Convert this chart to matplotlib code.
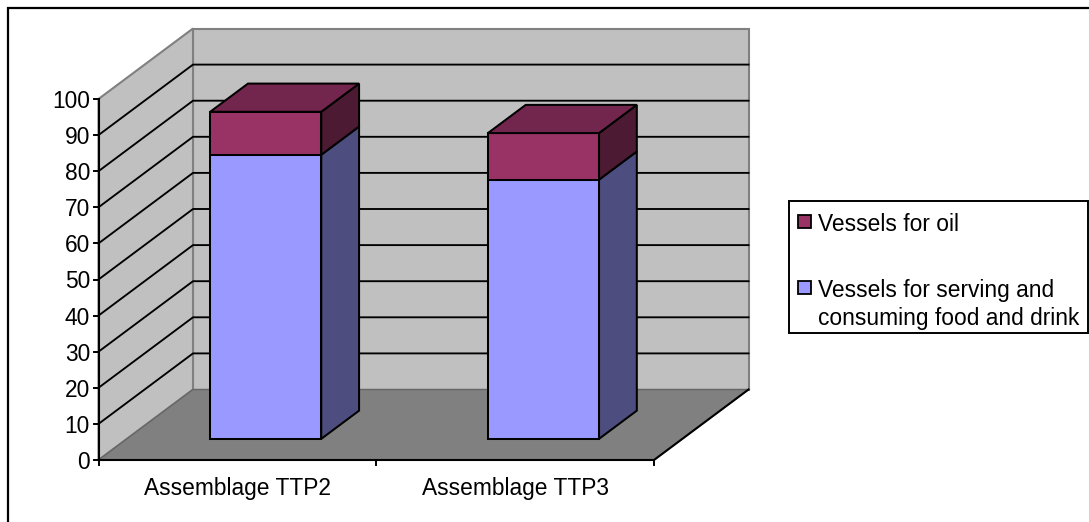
import matplotlib
matplotlib.use("Agg")
import matplotlib.pyplot as plt
from matplotlib.patches import Polygon, Rectangle

plt.rcParams['font.family'] = ['Liberation Sans', 'DejaVu Sans']

categories = ["Assemblage TTP2", "Assemblage TTP3"]
serving = [78.7, 71.8]
oil = [11.9, 12.9]
y_ticks = list(range(0, 101, 10))
legend_oil = "Vessels for oil"
legend_serving = ["Vessels for serving and", "consuming food and drink"]

# oblique projection of the 3-d box onto the canvas
X0, X1 = 98.5, 654.0
Y0, Y100 = 460.0, 99.0
DX, DY = 94.5, -70.5
CAT_W = (X1 - X0) / len(categories)
GAP = 0.3


def proj(c, v, d=0.0):
    # c: category position, v: value, d: depth 0..1
    x = X0 + c * CAT_W + d * DX
    y = Y0 + (Y100 - Y0) * v / 100 + d * DY
    return (x, y)


def face(ax, pts, color, z):
    ax.add_patch(Polygon(pts, closed=True, facecolor=color, edgecolor='black',
                         linewidth=1.45, joinstyle='miter', zorder=z))


fig = plt.figure(figsize=(10.89, 5.22), dpi=100)
ax = fig.add_axes([0, 0, 1, 1])
ax.set_xlim(0, 1089)
ax.set_ylim(522, 0)
ax.axis('off')

# frame shows on the top and left sides only
ax.plot([7.5, 7.5, 1089], [522, 7.5, 7.5], color='black', lw=1.6, zorder=0, solid_joinstyle='miter')

n = len(categories)
# walls and floor
ax.add_patch(Polygon([proj(0, 0, 1), proj(n, 0, 1), proj(n, 100, 1), proj(0, 100, 1)],
                     facecolor='#C0C0C0', edgecolor='#808080', linewidth=1.5, zorder=1))
ax.add_patch(Polygon([proj(0, 0, 0), proj(0, 0, 1), proj(0, 100, 1), proj(0, 100, 0)],
                     facecolor='#C0C0C0', edgecolor='#808080', linewidth=1.5, zorder=1))
ax.add_patch(Polygon([proj(0, 0, 0), proj(n, 0, 0), proj(n, 0, 1), proj(0, 0, 1)],
                     facecolor='#808080', edgecolor='#666666', linewidth=1.0, zorder=1))

# gridlines run along the side wall, then across the back
for v in y_ticks[1:-1]:
    pts = [proj(0, v, 0), proj(0, v, 1), proj(n, v, 1)]
    ax.plot([p[0] for p in pts], [p[1] for p in pts], color='black', lw=1.35, zorder=2)

# axes lines and ticks
p = [proj(0, 0), proj(0, 100)]
ax.plot([p[0][0], p[1][0]], [p[0][1], p[1][1]], color='black', lw=1.5, zorder=6)
p = [proj(0, 0), proj(n, 0), proj(n, 0, 1)]
ax.plot([q[0] for q in p], [q[1] for q in p], color='black', lw=1.5, zorder=6)

for v in y_ticks:
    x, y = proj(0, v)
    ax.plot([x - 5, x], [y, y], color='black', lw=1.4, zorder=6)
    ax.text(x - 8.5, y, str(v), ha='right', va='center_baseline', fontsize=16.4, color='black')

for c in range(n + 1):
    x, y = proj(c, 0)
    ax.plot([x, x], [y, y + 5], color='black', lw=1.4, zorder=6)

for c, name in enumerate(categories):
    x = proj(c + 0.5, 0)[0]
    ax.text(x, 486, name, ha='center', va='center_baseline', fontsize=16.4, color='black')

# stacked bars: front, side and top faces
for c in range(n):
    a, b = c + GAP, c + 1 - GAP
    low, mid, top = 0, serving[c], serving[c] + oil[c]

    face(ax, [proj(b, low, .3), proj(b, low, .7), proj(b, mid, .7), proj(b, mid, .3)], '#4D4D80', 3)
    face(ax, [proj(a, low, .3), proj(b, low, .3), proj(b, mid, .3), proj(a, mid, .3)], '#9999FF', 4)
    face(ax, [proj(b, mid, .3), proj(b, mid, .7), proj(b, top, .7), proj(b, top, .3)], '#4D1A33', 3)
    face(ax, [proj(a, mid, .3), proj(b, mid, .3), proj(b, top, .3), proj(a, top, .3)], '#993366', 4)
    face(ax, [proj(a, top, .3), proj(b, top, .3), proj(b, top, .7), proj(a, top, .7)], '#73264D', 4)

# legend box
ax.add_patch(Rectangle((789, 201), 298.5, 132, facecolor='white', edgecolor='black', linewidth=1.4, zorder=7))
ax.add_patch(Rectangle((798, 215), 13, 13, facecolor='#993366', edgecolor='black', linewidth=1.3, zorder=8))
ax.add_patch(Rectangle((798, 281), 13, 13, facecolor='#9999FF', edgecolor='black', linewidth=1.3, zorder=8))
ax.text(818, 222, legend_oil, ha='left', va='center_baseline', fontsize=16.4, zorder=8)
ax.text(818, 288, legend_serving[0], ha='left', va='center_baseline', fontsize=16.4, zorder=8)
ax.text(818, 316, legend_serving[1], ha='left', va='center_baseline', fontsize=16.4, zorder=8)

fig.savefig("out.png", dpi=100)
